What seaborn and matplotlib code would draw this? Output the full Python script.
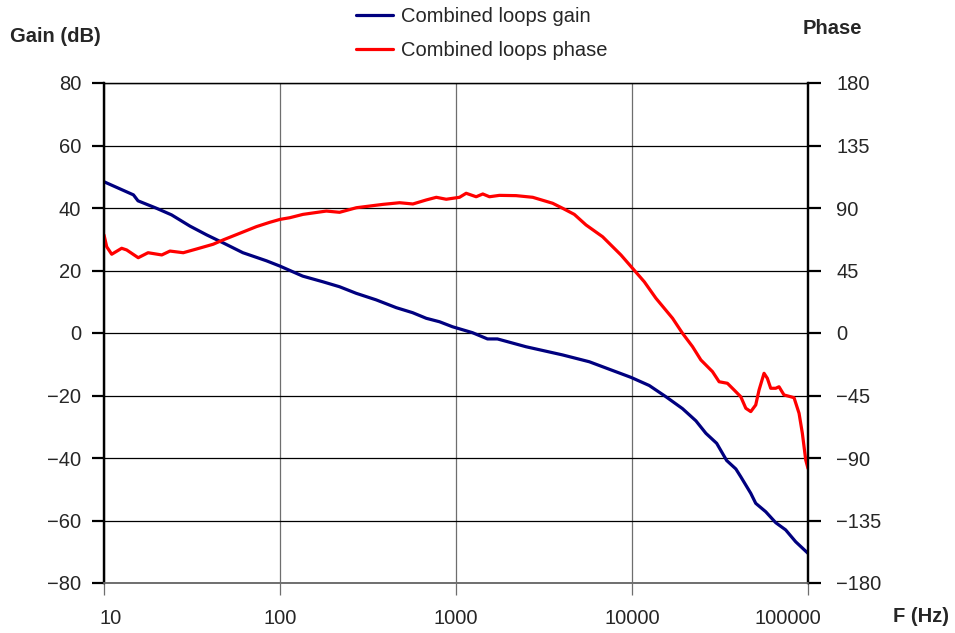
import numpy as np
import pandas as pd
import matplotlib
matplotlib.use("Agg")
import matplotlib.pyplot as plt
import matplotlib.transforms as mtransforms
from matplotlib.ticker import FixedLocator, NullLocator
import seaborn as sns

# ---- data ----
gain_freq = [10, 14.7, 15.6, 19.9, 24.2, 30.8, 38.3, 47.3, 61.5, 83.8, 100, 134.6, 175,
             218, 271, 352, 458, 567, 678, 806, 955, 1241, 1510, 1720, 2500, 4020, 5720,
             7430, 9870, 12530, 15590, 19360, 23070, 26300, 30280, 34500, 38910, 41500,
             47300, 50470, 57540, 65570, 74640, 85110, 100000]
gain_db = [48.4, 44.2, 42.3, 39.9, 37.8, 34.2, 31.4, 28.9, 25.7, 23.1, 21.4, 18.2, 16.4,
           14.8, 12.7, 10.6, 8.1, 6.5, 4.7, 3.6, 2.0, 0.1, -1.9, -1.9, -4.4, -7.0, -9.2,
           -11.6, -14.2, -16.8, -20.4, -24.2, -28.1, -32.1, -35.3, -40.8, -43.5, -46.0,
           -51.3, -54.5, -57.2, -60.7, -63.0, -66.8, -70.5]

phase_freq = [10, 10.36, 11.06, 12.6, 13.45, 15.65, 17.8, 21.3, 23.7, 28.2, 33.6, 41.7,
              47.5, 59.1, 73.5, 87.5, 100, 113.6, 135, 183.4, 218, 271.6, 384, 478, 569,
              678, 773, 880, 1047, 1142, 1302, 1420, 1549, 1765, 2195, 2729, 3542, 4036,
              4701, 5478, 6808, 8650, 10070, 11740, 13680, 17000, 19360, 22070, 24620,
              28650, 31260, 34840, 38020, 41500, 44330, 47300, 50470, 52720, 56260, 58740,
              61400, 65570, 68440, 73060, 79770, 83300, 88950, 92880, 97060, 100000]
phase_deg = [70.6, 62.1, 56.7, 61.0, 59.8, 54.2, 57.8, 56.2, 59.0, 57.8, 60.5, 63.9,
             67.0, 71.8, 76.6, 79.7, 81.8, 83.0, 85.4, 87.8, 86.9, 90.2, 92.6, 93.8, 92.9,
             95.8, 97.7, 96.3, 97.7, 100.6, 98.1, 100.1, 98.1, 99.1, 98.9, 97.7, 93.4, 89.8,
             85.4, 77.8, 69.3, 56.2, 46.6, 36.9, 25.0, 10.6, -0.2, -9.8, -19.4,
             -27.8, -35.1, -36.2, -41.0, -45.9, -54.2, -56.6, -51.8, -41.0, -29.0, -32.6,
             -39.8, -39.8, -38.7, -44.6, -45.9, -46.6, -57.8, -72.2, -91.4, -97.5]

x_ticks = [10, 100, 1000, 10000, 100000]
x_tick_labels = ["10", "100", "1000", "10000", "100000"]
gain_ticks = [-80, -60, -40, -20, 0, 20, 40, 60, 80]
phase_ticks = [-180, -135, -90, -45, 0, 45, 90, 135, 180]

gain_label = "Combined loops gain"
phase_label = "Combined loops phase"

gain_df = pd.DataFrame({"freq": gain_freq, "gain": gain_db})
phase_df = pd.DataFrame({"freq": phase_freq, "phase": phase_deg})

# ---- style ----
sns.set_style("white")
plt.rcParams["font.family"] = ["Liberation Sans", "DejaVu Sans"]
FS = 14.5

W, H = 955, 633
fig = plt.figure(figsize=(W / 100, H / 100), dpi=100)
ax = fig.add_axes([104 / W, 1 - 583 / H, (808 - 104) / W, (583 - 83) / H])
ax2 = ax.twinx()

GAIN_C = "#00007f"
PHASE_C = "#ff0000"

sns.lineplot(data=gain_df, x="freq", y="gain", ax=ax, color=GAIN_C, lw=2.3,
             label=gain_label, legend=False, sort=False)
sns.lineplot(data=phase_df, x="freq", y="phase", ax=ax2, color=PHASE_C, lw=2.3,
             label=phase_label, legend=False, sort=False)

for a in (ax, ax2):
    a.set_xscale("log")
    a.set_xlim(10, 100000)
    a.set_xlabel("")
    a.set_ylabel("")
    a.xaxis.set_minor_locator(NullLocator())

ax.set_ylim(-80, 80)
ax2.set_ylim(-180, 180)
ax.yaxis.set_major_locator(FixedLocator(gain_ticks))
ax2.yaxis.set_major_locator(FixedLocator(phase_ticks))
ax.set_yticklabels([f"{v}".replace("-", "\u2212") for v in gain_ticks], fontsize=FS)
ax2.set_yticklabels([f"{v}".replace("-", "\u2212") for v in phase_ticks], fontsize=FS)

ax.xaxis.set_major_locator(FixedLocator(x_ticks))
ax.set_xticklabels(x_tick_labels, fontsize=FS)

# grid
ax.set_axisbelow(True)
ax.yaxis.grid(True, color="black", lw=0.9)
ax.xaxis.grid(True, color="#6e6e6e", lw=0.9)

# spines
for a in (ax, ax2):
    a.spines["left"].set_color("black")
    a.spines["left"].set_linewidth(1.6)
    a.spines["right"].set_color("black")
    a.spines["right"].set_linewidth(1.6)
    a.spines["top"].set_color("black")
    a.spines["top"].set_linewidth(0.9)
    a.spines["bottom"].set_color("#6e6e6e")
    a.spines["bottom"].set_linewidth(1.2)

ax.tick_params(axis="y", direction="out", length=9, width=1.6, color="black", pad=7.5,
               left=True, right=False)
ax2.tick_params(axis="y", direction="out", length=9, width=1.6, color="black", pad=11.5,
                right=True, left=False)
ax.tick_params(axis="x", direction="out", length=8.5, width=0.9, color="#6e6e6e", pad=10.5,
               bottom=True)
ax2.tick_params(axis="x", bottom=False, labelbottom=False)

# shift end x tick labels inward like the reference
xt = ax.get_xticklabels()
xt[0].set_transform(xt[0].get_transform() +
                    mtransforms.ScaledTranslation(0.07, 0, fig.dpi_scale_trans))
xt[-1].set_transform(xt[-1].get_transform() +
                     mtransforms.ScaledTranslation(-0.20, 0, fig.dpi_scale_trans))

# axis titles
fig.text(10 / W, 1 - 36.5 / H, "Gain (dB)", fontsize=FS, fontweight="bold",
         ha="left", va="center")
fig.text(803 / W, 1 - 28.5 / H, "Phase", fontsize=FS, fontweight="bold",
         ha="left", va="center")
fig.text(893 / W, 1 - 617 / H, "F (Hz)", fontsize=FS, fontweight="bold",
         ha="left", va="center")

# legend
h1, l1 = ax.get_legend_handles_labels()
h2, l2 = ax2.get_legend_handles_labels()
fig.legend(h1 + h2, l1 + l2, loc="upper left", bbox_to_anchor=(356 / W, 1 - 7.5 / H),
           frameon=False, fontsize=FS, borderpad=0, borderaxespad=0,
           handlelength=1.85, handletextpad=0.38, labelspacing=0.7)

fig.savefig("out.png", dpi=100)
